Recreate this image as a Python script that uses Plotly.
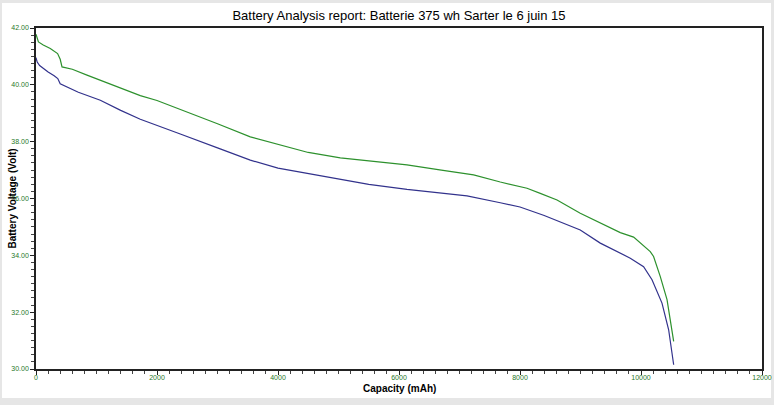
import plotly.graph_objects as go

# Capacity (mAh) and voltage readings for the two curves
cap_green = [0, 40, 120, 236, 357, 400, 430, 600, 843, 1200, 1724, 2000, 2385, 3000,
             3542, 4000, 4500, 5030, 5360, 6132, 6700, 7233, 7674, 8116, 8335, 8612,
             8996, 9327, 9658, 9878, 10153, 10208, 10319, 10430, 10540]
volt_green = [41.78, 41.51, 41.40, 41.28, 41.10, 40.90, 40.63, 40.55, 40.34, 40.05, 39.62,
              39.45, 39.14, 38.63, 38.17, 37.90, 37.62, 37.43, 37.35, 37.18, 37.00, 36.83,
              36.58, 36.36, 36.18, 35.95, 35.48, 35.13, 34.80, 34.64, 34.13, 33.96, 33.25,
              32.44, 30.97]

cap_blue = [0, 20, 60, 120, 200, 300, 360, 400, 500, 700, 1063, 1400, 1724, 2000, 2385,
            3000, 3542, 4000, 4919, 5500, 6132, 6600, 7124, 7674, 8000, 8400, 8996, 9327,
            9658, 9823, 10043, 10182, 10347, 10457, 10540]
volt_blue = [40.96, 40.80, 40.68, 40.57, 40.45, 40.32, 40.22, 40.04, 39.93, 39.74, 39.46,
             39.10, 38.79, 38.58, 38.27, 37.78, 37.35, 37.07, 36.71, 36.50, 36.32, 36.20,
             36.09, 35.85, 35.70, 35.40, 34.89, 34.43, 34.08, 33.90, 33.60, 33.14, 32.32,
             31.38, 30.15]

x_ticks = [0, 2000, 4000, 6000, 8000, 10000, 12000]
y_ticks = [30, 32, 34, 36, 38, 40, 42]
y_labels = ["30.00", "32.00", "34.00", "36.00", "38.00", "40.00", "42.00"]

fig = go.Figure()
fig.add_trace(go.Scatter(x=cap_green, y=volt_green, mode="lines",
                         line=dict(color="rgb(45,145,45)", width=1.2), showlegend=False))
fig.add_trace(go.Scatter(x=cap_blue, y=volt_blue, mode="lines",
                         line=dict(color="rgb(50,50,140)", width=1.2), showlegend=False))

L, R, T, B = 36, 12, 28, 36
W, H = 774, 405
pw, ph = W - L - R, H - T - B

def px(x):
    return (x - L) / pw

def py(y):
    return (H - B - y) / ph

font_family = "Liberation Sans, Arial"

fig.update_layout(
    width=W, height=H,
    margin=dict(l=L, r=R, t=T, b=B, autoexpand=False),
    paper_bgcolor="#e6e6e6",
    plot_bgcolor="white",
    title=dict(text="Battery Analysis report: Batterie 375 wh Sarter le 6 juin 15",
               x=(L + pw / 2) / W, xanchor="center", y=1 - 15 / H, yanchor="middle",
               font=dict(family=font_family, size=13, color="black"),
               automargin=False),
    shapes=[dict(type="rect", xref="paper", yref="paper", layer="below",
                 x0=px(2), x1=px(771), y0=py(398), y1=py(3),
                 fillcolor="white", line=dict(width=0))],
    annotations=[
        dict(text="<b>Capacity (mAh)</b>", xref="paper", yref="paper",
             x=0.5, y=py(388), xanchor="center", yanchor="middle", showarrow=False,
             font=dict(family=font_family, size=10, color="black")),
        dict(text="<b>Battery Voltage (Volt)</b>", xref="paper", yref="paper",
             x=px(12), y=0.5, xanchor="center", yanchor="middle", showarrow=False,
             textangle=-90, font=dict(family=font_family, size=10, color="black")),
    ],
    xaxis=dict(range=[0, 12000], tickvals=x_ticks, ticktext=[str(v) for v in x_ticks],
               automargin=False, ticklabelstandoff=-3,
               showgrid=False, zeroline=False, showline=True, linecolor="#222",
               linewidth=1.5, mirror=True, ticks="outside", ticklen=4, tickcolor="#222",
               tickfont=dict(family=font_family, size=7, color="rgb(40,120,40)"),
               minor=dict(dtick=200, ticks="outside", ticklen=3, tickcolor="#444", showgrid=False)),
    yaxis=dict(range=[30, 42], tickvals=y_ticks, ticktext=y_labels,
               automargin=False,
               showgrid=False, zeroline=False, showline=True, linecolor="#222",
               linewidth=1.5, mirror=True, ticks="outside", ticklen=4, tickcolor="#222",
               tickfont=dict(family=font_family, size=7, color="rgb(40,120,40)"),
               minor=dict(dtick=0.25, ticks="outside", ticklen=3, tickcolor="#444", showgrid=False)),
)

fig.write_html("out.html")
